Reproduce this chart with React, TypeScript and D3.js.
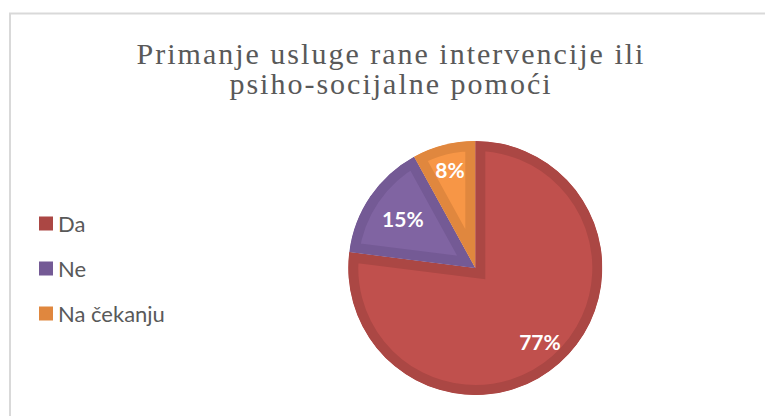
import React, { useEffect, useRef } from "react";
import * as d3 from "d3";

const categories = ["Da", "Ne", "Na čekanju"];
const values = [77, 15, 8];
const labels = ["77%", "15%", "8%"];
const titleLines = ["Primanje usluge rane intervencije ili", "psiho-socijalne pomoći"];

const fillColors = ["#C0504D", "#8064A2", "#F79646"];
const borderColors = ["#AB4744", "#745A95", "#E0873E"];
const labelRadiusFactors = [0.77, 0.69, 0.8];

export default function App() {
  const ref = useRef<SVGSVGElement | null>(null);

  useEffect(() => {
    document.body.style.margin = "0";
    const svg = d3.select(ref.current);
    svg.selectAll("*").remove();

    const W = 765, H = 416;
    // chart frame
    svg.append("rect")
      .attr("x", 10).attr("y", 13.5)
      .attr("width", W + 20).attr("height", H + 20)
      .attr("fill", "#fff").attr("stroke", "#D9D9D9").attr("stroke-width", 2);

    // title
    const title = svg.append("text")
      .attr("text-anchor", "middle")
      .attr("font-family", "'Liberation Serif', 'Times New Roman', serif")
      .attr("font-size", 30)
      .attr("letter-spacing", 2)
      .attr("fill", "#595959");
    titleLines.forEach((t, i) => {
      title.append("tspan").attr("x", 391).attr("y", 64 + i * 30).text(t);
    });

    // pie
    const cx = 475.3, cy = 268, r = 127;
    const pie = d3.pie<number>().sort(null).value((d) => d);
    const arcs = pie(values);
    const arc = d3.arc<d3.PieArcDatum<number>>().innerRadius(0).outerRadius(r);
    const g = svg.append("g").attr("transform", `translate(${cx},${cy})`);
    const defs = svg.append("defs");

    arcs.forEach((a, i) => {
      const id = `clip-slice-${i}`;
      defs.append("clipPath").attr("id", id).append("path").attr("d", arc(a) as string);
      g.append("path")
        .attr("d", arc(a) as string)
        .attr("fill", fillColors[i])
        .attr("stroke", borderColors[i])
        .attr("stroke-width", 20)
        .attr("stroke-linejoin", "miter")
        .attr("clip-path", `url(#${id})`);
    });

    arcs.forEach((a, i) => {
      const mid = (a.startAngle + a.endAngle) / 2;
      const lr = r * labelRadiusFactors[i];
      g.append("text")
        .attr("x", Math.sin(mid) * lr)
        .attr("y", -Math.cos(mid) * lr)
        .attr("text-anchor", "middle")
        .attr("dominant-baseline", "central")
        .attr("font-family", "Lato, 'Open Sans', sans-serif")
        .attr("font-weight", "bold")
        .attr("font-size", 21)
        .attr("fill", "#fff")
        .text(labels[i]);
    });

    // legend
    const legendY = d3.scalePoint<string>().domain(categories).range([223.5, 313.5]);
    categories.forEach((c, i) => {
      const y = legendY(c) as number;
      svg.append("rect")
        .attr("x", 39).attr("y", y - 7)
        .attr("width", 14).attr("height", 14)
        .attr("fill", borderColors[i]);
      svg.append("text")
        .attr("x", 58).attr("y", y)
        .attr("dominant-baseline", "central")
        .attr("font-family", "Lato, 'Open Sans', sans-serif")
        .attr("font-size", 22)
        .attr("fill", "#595959")
        .text(c);
    });
  }, []);

  return (
    <svg
      ref={ref}
      width={765}
      height={416}
      style={{ position: "fixed", left: 0, top: 0, background: "#fff" }}
    />
  );
}
